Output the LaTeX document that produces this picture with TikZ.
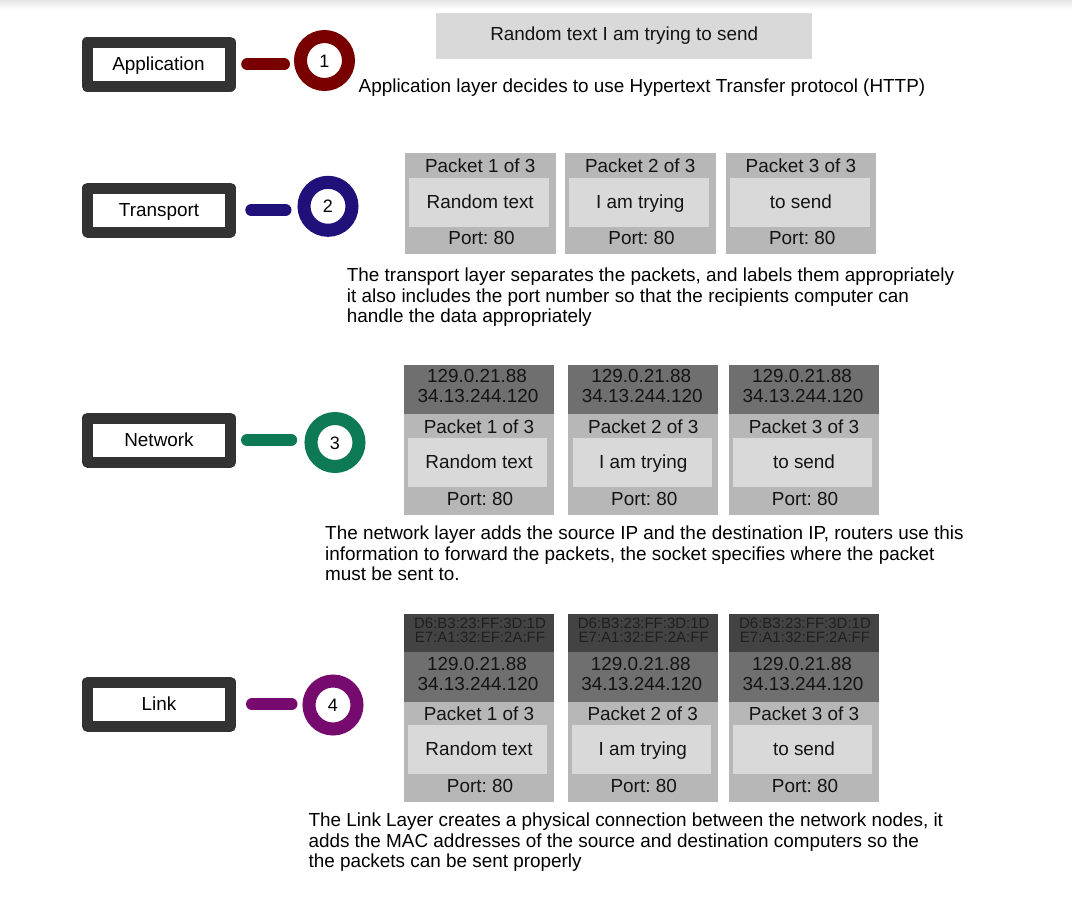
\documentclass[tikz,border=0pt]{standalone}
\usepackage{fontspec}
\setmainfont{Liberation Sans}
\frenchspacing
\definecolor{boxdark}{HTML}{333333}
\definecolor{lgray}{HTML}{D9D9D9}
\definecolor{mgray}{HTML}{B7B7B7}
\definecolor{ipgray}{HTML}{6F6F6F}
\definecolor{macgray}{HTML}{434343}
\definecolor{appred}{HTML}{780000}
\definecolor{trblue}{HTML}{20107A}
\definecolor{netgreen}{HTML}{0E7A55}
\definecolor{linkpurple}{HTML}{760A6E}
\newcommand{\basefont}{\fontsize{18.9}{20.5}\selectfont}
\tikzset{
 layerbox/.style={draw=boxdark, fill=white, line width=11pt, line join=round,
   minimum width=143pt, minimum height=44pt, inner sep=0pt,
   font=\basefont, text height=13.5pt, text depth=0pt},
 ring/.style={circle, draw=#1, fill=white, line width=13pt, minimum size=48pt,
   inner sep=0pt, font=\fontsize{18}{20}\selectfont, text height=13pt, text depth=0pt},
 conn/.style={draw=#1, line width=12pt, line cap=round},
 pkt/.style={rectangle, inner sep=0pt, outer sep=0pt, anchor=north west, draw=none},
 ptxt/.style={anchor=base, font=\basefont, inner sep=0pt, text=black!92},
 mtxt/.style={anchor=base, font=\fontsize{15}{14}\selectfont, inner sep=0pt, text=black!88},
 desc/.style={anchor=base west, inner sep=0pt, align=left, font=\basefont, text=black},
}
\begin{document}
\begin{tikzpicture}[x=1pt, y=-1pt]
\fill[white] (0,0) rectangle (1072,898);
\useasboundingbox (0,0) rectangle (1072,898);
\shade[top color=black!10, bottom color=white] (0,0) rectangle (1072,9);

% layer boxes and rings
\node[layerbox] (app) at (158.5,64.2) {Application};
\node[layerbox] (tra) at (159,210) {Transport};
\node[layerbox] (net) at (159,440) {Network};
\node[layerbox] (lnk) at (159,704.2) {Link};

\node[ring=appred] (c1) at (324.5,60.5) {1};
\node[ring=trblue] (c2) at (328,206.3) {2};
\node[ring=netgreen] (c3) at (335,442.5) {3};
\node[ring=linkpurple] (c4) at (333,705) {4};

\draw[conn=appred, shorten <=11.7pt, shorten >=10pt] (app.east) -- (app.east -| c1.west);
\draw[conn=trblue, shorten <=15.3pt, shorten >=12pt] (tra.east) -- (tra.east -| c2.west);
\draw[conn=netgreen, shorten <=11pt, shorten >=13.3pt] (net.east) -- (net.east -| c3.west);
\draw[conn=linkpurple, shorten <=16pt, shorten >=11pt] (lnk.east) -- (lnk.east -| c4.west);

% application
\node[rectangle, fill=lgray, minimum width=376.3pt, minimum height=46pt, inner sep=0pt,
  font=\basefont, text height=13.5pt, text depth=4.6pt, text=black!92] (msg) at (624.2,36.3)
  {Random text I am trying to send};
\node[desc] (appdesc) at (358.5,92.8) {Application layer decides to use Hypertext Transfer protocol (HTTP)};

% transport packets
\foreach \i/\x/\t in {1/405/Random text, 2/565/I am trying, 3/725.7/to send}{
  \node[pkt, fill=mgray, minimum width=150.5pt, minimum height=101pt] (tp\i) at (\x,153.3) {};
  \node[pkt, fill=lgray, minimum width=139.5pt, minimum height=49.6pt] (tb\i) at ({\x+4.3},177.7) {};
  \node[ptxt] (tpl\i) at ({\x+75.2},172.7) {Packet \i{} of 3};
  \node[ptxt] (tpt\i) at ({\x+75.2},208.3) {\t};
  \node[ptxt] (tpp\i) at ({\x+76.5},244.3) {Port: 80};
}
\node[desc] (tradesc) at (346.7,322.8) {The transport layer separates the packets, and labels them appropriately\\it also includes the port number so that the recipients computer can\\handle the data appropriately};

% network packets
\foreach \i/\x/\t in {1/404/Random text, 2/568.3/I am trying, 3/729/to send}{
  \node[pkt, fill=mgray, minimum width=150pt, minimum height=150.3pt] (np\i) at (\x,364.7) {};
  \node[pkt, fill=ipgray, minimum width=150pt, minimum height=49.6pt] (nh\i) at (\x,364.7) {};
  \node[pkt, fill=lgray, minimum width=139pt, minimum height=49pt] (nb\i) at ({\x+4.3},438.3) {};
  \node[ptxt] (nip\i) at ({\x+73},382.7) {129.0.21.88};
  \node[ptxt] (nis\i) at ({\x+74},402.7) {34.13.244.120};
  \node[ptxt] (npl\i) at ({\x+75},433.3) {Packet \i{} of 3};
  \node[ptxt] (npt\i) at ({\x+75},468.3) {\t};
  \node[ptxt] (npp\i) at ({\x+76},505) {Port: 80};
}
\node[desc] (netdesc) at (325,580.8) {The network layer adds the source IP and the destination IP, routers use this\\information to forward the packets, the socket specifies where the packet\\must be sent to.};

% link packets
\foreach \i/\x/\t in {1/404/Random text, 2/567.7/I am trying, 3/729/to send}{
  \node[pkt, fill=mgray, minimum width=150pt, minimum height=187.4pt] (lp\i) at (\x,614.3) {};
  \node[pkt, fill=ipgray, minimum width=150pt, minimum height=50pt] (lh\i) at (\x,651.7) {};
  \node[pkt, fill=macgray, minimum width=150pt, minimum height=37.4pt] (lm\i) at (\x,614.3) {};
  \node[pkt, fill=lgray, minimum width=139pt, minimum height=49.3pt] (lb\i) at ({\x+4.3},725) {};
  \node[mtxt] (lma\i) at ({\x+76},628.3) {D6:B3:23:FF:3D:1D};
  \node[mtxt] (lmb\i) at ({\x+76},642.3) {E7:A1:32:EF:2A:FF};
  \node[ptxt] (lip\i) at ({\x+73},670) {129.0.21.88};
  \node[ptxt] (lis\i) at ({\x+74},690) {34.13.244.120};
  \node[ptxt] (lpl\i) at ({\x+75},720) {Packet \i{} of 3};
  \node[ptxt] (lpt\i) at ({\x+75},755.7) {\t};
  \node[ptxt] (lpp\i) at ({\x+76},792.3) {Port: 80};
}
\node[desc] (lnkdesc) at (308.3,867.8) {The Link Layer creates a physical connection between the network nodes, it\\adds the MAC addresses of the source and destination computers so the\\the packets can be sent properly};
\end{tikzpicture}
\end{document}
